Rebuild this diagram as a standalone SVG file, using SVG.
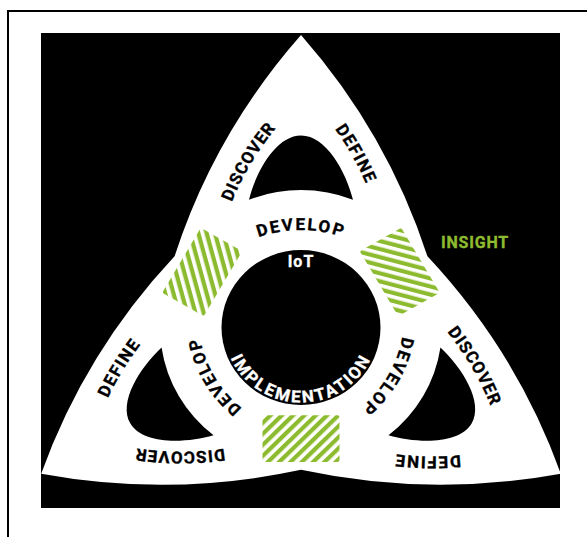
<svg xmlns="http://www.w3.org/2000/svg" xmlns:xlink="http://www.w3.org/1999/xlink" width="587" height="537" viewBox="0 0 587 537">
<style>
.lbl{font-family:Roboto,"Liberation Sans",sans-serif;font-weight:700;font-size:17px;letter-spacing:1.5px;fill:#000;stroke:#000;stroke-width:0.35px}
.inv{fill:#fff;stroke:#fff}
.hole{fill:#000}
.green{fill:#8dbb30;stroke:#8dbb30}
.disc{letter-spacing:1px}
.dev{letter-spacing:2px}
</style>
<defs>
<pattern id="hatch" patternUnits="userSpaceOnUse" width="8" height="8" patternTransform="rotate(45)">
<rect x="0" y="0" width="4.3" height="8" fill="#8dbb30"/>
</pattern>
<path id="lobeHole" d="M-52,-131 C-45,-160 -25,-197 0,-197 C25,-197 45,-160 52,-131 A141,141 0 0 0 -52,-131 Z"/>
<rect id="hatchRect" x="-38.5" y="90" width="77" height="48" rx="2"/>
<path id="pDevelop" d="M-80.3,-70.8 A125,125 0 0 1 80.3,-70.8"/>
<path id="pDiscover" d="M-73.1,-118.5 A300,300 0 0 1 -17.7,-213.5"/>
<path id="pDefine" d="M20.1,-221.5 A300,300 0 0 1 73.5,-125.3"/>
<path id="pImpl" d="M-75.8,13.4 A77,77 0 0 0 75.8,13.4"/>
</defs>
<rect x="8" y="11" width="600" height="600" fill="#fff" stroke="#000" stroke-width="2"/>
<rect id="background" x="41" y="33" width="519" height="475" fill="#000"/>
<g transform="translate(301,327.5) scale(1,0.975)">
<path id="triquetra" fill="#fff" d="M0,-300 A650,650 0 0 0 -126.44,-73 A650,650 0 0 0 -259.81,150 A650,650 0 0 0 0,146 A650,650 0 0 0 259.81,150 A650,650 0 0 0 126.44,-73 A650,650 0 0 0 0,-300 Z"/>
<g id="holes">
<use xlink:href="#lobeHole" class="hole"/>
<use xlink:href="#lobeHole" class="hole" transform="rotate(120)"/>
<use xlink:href="#lobeHole" class="hole" transform="rotate(-120)"/>
</g>
<g id="hatches">
<use xlink:href="#hatchRect" fill="url(#hatch)"/>
<use xlink:href="#hatchRect" fill="url(#hatch)" transform="rotate(120)"/>
<use xlink:href="#hatchRect" fill="url(#hatch)" transform="rotate(-120)"/>
</g>
<g id="lobe-top">
<text class="lbl disc"><textPath xlink:href="#pDiscover" startOffset="50%" text-anchor="middle">DISCOVER</textPath></text>
<text class="lbl"><textPath xlink:href="#pDefine" startOffset="50%" text-anchor="middle">DEFINE</textPath></text>
<text class="lbl dev"><textPath xlink:href="#pDevelop" startOffset="50%" text-anchor="middle">DEVELOP</textPath></text>
</g>
<g id="lobe-right" transform="rotate(120)">
<text class="lbl disc"><textPath xlink:href="#pDiscover" startOffset="50%" text-anchor="middle">DISCOVER</textPath></text>
<text class="lbl"><textPath xlink:href="#pDefine" startOffset="50%" text-anchor="middle">DEFINE</textPath></text>
<text class="lbl dev"><textPath xlink:href="#pDevelop" startOffset="50%" text-anchor="middle">DEVELOP</textPath></text>
</g>
<g id="lobe-left" transform="rotate(-120)">
<text class="lbl disc"><textPath xlink:href="#pDiscover" startOffset="50%" text-anchor="middle">DISCOVER</textPath></text>
<text class="lbl"><textPath xlink:href="#pDefine" startOffset="50%" text-anchor="middle">DEFINE</textPath></text>
<text class="lbl dev"><textPath xlink:href="#pDevelop" startOffset="50%" text-anchor="middle">DEVELOP</textPath></text>
</g>
<g id="core">
<circle cx="0" cy="0" r="79.5" fill="#000"/>
<text class="lbl inv" x="0" y="-62" text-anchor="middle" style="font-size:16px;letter-spacing:1px">IoT</text>
<text class="lbl inv" style="letter-spacing:2.3px"><textPath xlink:href="#pImpl" startOffset="50%" text-anchor="middle">IMPLEMENTATION</textPath></text>
</g>
</g>
<g id="insight">
<text class="lbl green" x="475" y="248.3" text-anchor="middle" style="font-size:16px;letter-spacing:0.8px">INSIGHT</text>
</g>
</svg>
